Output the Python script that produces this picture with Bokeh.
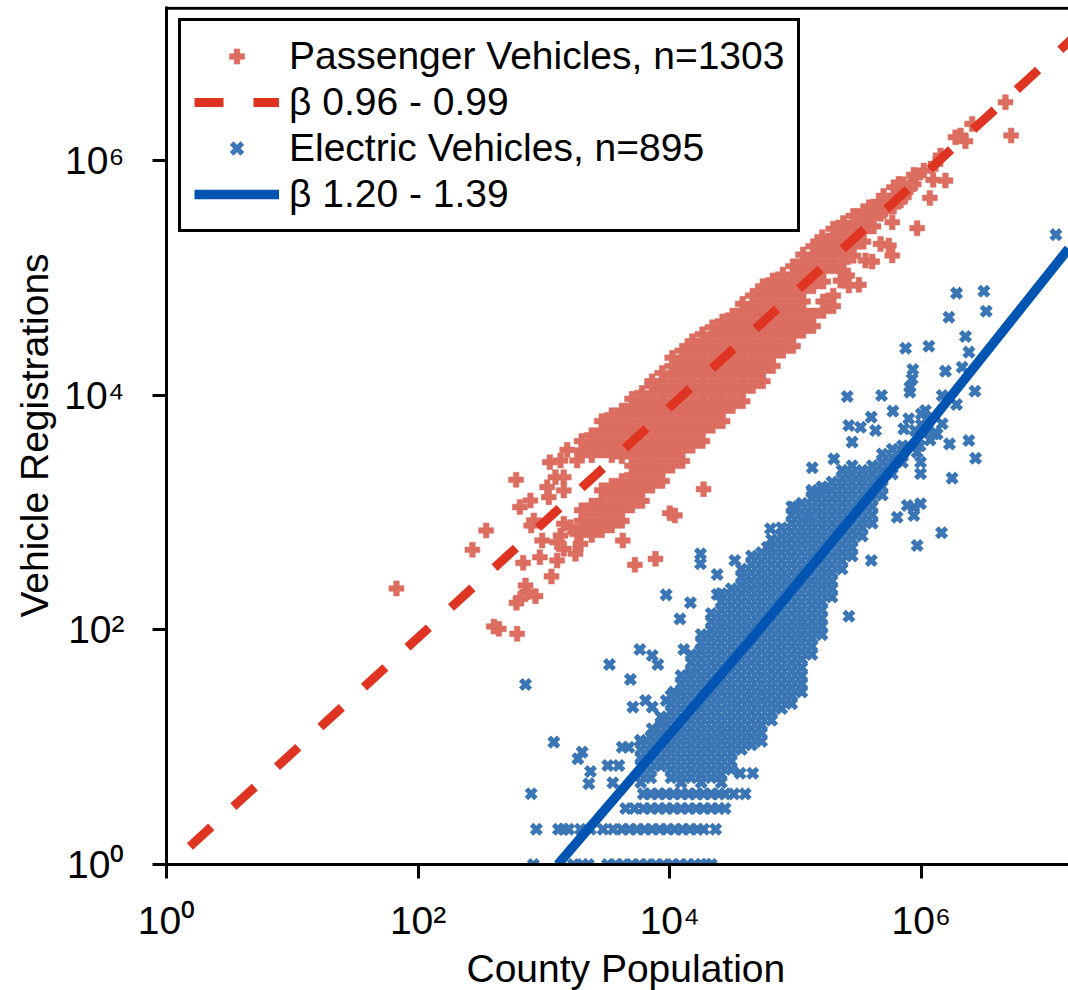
from bokeh.plotting import figure
from bokeh.models import Legend, LegendItem, FixedTicker, Span, Title
from bokeh.embed import file_html
from bokeh.resources import INLINE

X_LABEL = "County Population"
Y_LABEL = "Vehicle Registrations"
TICKS = [1, 100, 10000, 1000000]
TICK_TEXT = ["10⁰", "10²", "10⁴", "10⁶"]
NAMES = ["Passenger Vehicles, n=1303", "β 0.96 - 0.99", "Electric Vehicles, n=895", "β 1.20 - 1.39"]

# All values below are log10(population), log10(registrations).
PV_FIT_LX = [-0.16, 7.2]
PV_FIT_LY = [-0.186, 7.04]
EV_FIT_LX = [3.11, 4.64, 6.0, 7.17]
EV_FIT_LY = [0.0, 1.91, 3.674, 5.25]

PV_SPARSE = [(1.828,2.353),(2.432,2.683),(2.541,2.848),(2.779,3.28),(3.047,3.43),(3.185,3.535),(3.132,3.444),(3.264,3.444),
 (3.092,3.302),(3.158,3.302),(3.026,3.217),(3.158,3.189),(3.039,3.132),(2.893,3.103),(2.809,3.047),(2.92,2.933),(2.899,2.89),
 (2.986,2.762),(3.105,2.748),(2.968,2.62),(2.835,2.572),(3.105,2.592),(3.06,2.456),(2.854,2.379),(2.867,2.322),(2.933,2.288),
 (2.814,2.265),(2.782,2.231),(2.602,2.029),(2.642,2.009),(2.787,1.967),(3.158,2.905),(3.211,2.876),(3.132,2.805),(3.264,2.819),
 (3.158,2.691),(3.251,2.649),(3.291,2.734),(3.627,2.762),(3.887,2.606),(3.723,2.555),(4.269,3.2),(4.001,2.995),(4.041,2.976),
 (6.669,6.499),(6.714,6.215),(6.312,6.215),(6.272,6.2),(6.351,6.166),(6.404,6.314),(6.153,6.044),(6.113,5.973),(6.192,5.831),
 (6.094,5.837),(6.068,5.683),(6.02,5.916),(5.954,5.859),(5.914,5.774),(5.782,5.774),(5.821,5.803),(5.861,5.689),(5.782,5.646),
 (5.835,5.66),(5.967,5.425),(5.769,5.476),(5.676,5.547),(5.586,5.604),(5.596,5.518),(5.49,5.433),(5.676,5.291),(5.742,5.277),
 (5.769,5.192),(5.557,5.149),(5.61,5.14),(5.411,5.021),(5.358,4.978),(5.424,4.936),(5.504,4.942),(5.212,5.348),(5.358,5.376)]

PV_COLUMNS = [
 (3.30,[2.85,2.93,3.02,3.53,3.61]),
 (3.38,[2.81,2.89,2.98,3.06,3.49,3.57,3.66]),
 (3.46,[2.85,2.93,3.02,3.10,3.19,3.53,3.61,3.70,3.78]),
 (3.54,[2.89,2.98,3.06,3.15,3.23,3.49,3.57,3.66,3.74,3.83]),
 (3.62,[2.93,3.02,3.10,3.19,3.27,3.48,3.53,3.61,3.70,3.78,3.87]),
 (3.70,[3.06,3.15,3.23,3.32,3.40,3.49,3.57,3.66,3.74,3.83,3.91,3.97]),
 (3.78,[3.10,3.19,3.27,3.36,3.44,3.53,3.61,3.70,3.78,3.87,3.95,4.02]),
 (3.86,[3.23,3.32,3.40,3.49,3.57,3.66,3.74,3.83,3.91,4.00,4.08,4.12]),
 (3.94,[3.27,3.36,3.44,3.53,3.61,3.70,3.78,3.87,3.95,4.04,4.12,4.19]),
 (4.02,[3.40,3.49,3.57,3.66,3.74,3.83,3.91,4.00,4.08,4.17,4.25,4.32]),
 (4.10,[3.44,3.53,3.61,3.70,3.78,3.87,3.95,4.04,4.12,4.21,4.29,4.38]),
 (4.18,[3.57,3.66,3.74,3.83,3.91,4.00,4.08,4.17,4.25,4.34,4.42,4.46]),
 (4.26,[3.61,3.70,3.78,3.87,3.95,4.04,4.12,4.21,4.29,4.38,4.46,4.52]),
 (4.34,[3.74,3.83,3.91,4.00,4.08,4.17,4.25,4.34,4.42,4.51,4.58]),
 (4.42,[3.78,3.87,3.95,4.04,4.12,4.21,4.29,4.38,4.46,4.55,4.63]),
 (4.50,[3.91,4.00,4.08,4.17,4.25,4.34,4.42,4.51,4.59,4.68]),
 (4.58,[3.95,4.04,4.12,4.21,4.29,4.38,4.46,4.55,4.63,4.72,4.78]),
 (4.66,[4.08,4.17,4.25,4.34,4.42,4.51,4.59,4.68,4.76,4.85]),
 (4.74,[4.12,4.21,4.29,4.38,4.46,4.55,4.63,4.72,4.80,4.89,4.93]),
 (4.82,[4.25,4.34,4.42,4.51,4.59,4.68,4.76,4.85,4.93,4.98]),
 (4.90,[4.38,4.46,4.55,4.63,4.72,4.80,4.89,4.97,5.03]),
 (4.98,[4.42,4.51,4.59,4.68,4.76,4.85,4.93,5.02,5.10]),
 (5.06,[4.55,4.63,4.72,4.80,4.89,4.97,5.06,5.14,5.20]),
 (5.14,[4.59,4.68,4.93,5.02,5.10,5.19,5.27]),
 (5.22,[4.72,4.80,4.97,5.06,5.14,5.23,5.31]),
 (5.30,[4.76,4.85,5.10,5.19,5.27,5.36,5.42]),
 (5.38,[5.06,5.14,5.23,5.31,5.40,5.47]),
 (5.46,[5.19,5.27,5.36,5.44,5.53]),
 (5.54,[5.31,5.40,5.48,5.57]),
 (5.62,[5.44,5.53,5.61]),
 (5.70,[5.57,5.65,5.70]),
 (5.78,[5.61,5.70]),
 (5.86,[5.72,5.80]),
 (5.94,[5.80,5.88]),
]

EV_SPARSE = [(2.854,1.535),(3.521,1.705),(3.763,1.833),(3.861,1.782),(3.906,1.705),(3.688,1.578),(4.112,1.833),(4.245,1.825),
 (4.166,1.626),(3.707,1.342),(3.808,1.398),(3.861,1.342),(3.972,1.398),(4.033,1.47),(3.079,1.043),(3.304,0.958),(3.27,0.901),
 (3.37,0.793),(3.357,0.688),(3.508,0.844),(3.596,0.844),(3.548,0.697),(2.899,0.603),(3.622,1.0),(3.675,1.0),(3.768,1.06),
 (3.861,1.157),(3.94,1.214),(6.497,4.888),(6.28,4.871),(6.516,4.717),(6.219,4.666),(6.351,4.501),(6.378,4.368),(6.06,4.419),
 (5.875,4.402),(6.192,4.206),(6.325,4.24),(5.933,4.22),(5.927,4.14),(5.909,4.069),(5.909,4.027),(6.426,4.035),(5.411,3.99),
 (5.684,3.998),(6.166,3.998),(6.28,3.922),(5.774,3.865),(5.602,3.814),(6.033,3.87),(6.378,3.615),(6.224,3.586),(6.431,3.464),
 (6.245,3.294),(6.161,2.828),(5.967,2.72),(5.602,2.592),(5.424,2.117),(5.133,3.382),(5.133,3.174),(5.22,3.211),(5.305,3.458),
 (5.424,3.743),(5.517,3.728),(5.45,3.601),(5.636,3.7),(5.861,3.714),(5.941,3.046),(5.888,3.061),(5.994,3.075),(5.941,2.975),
 (5.808,2.961),(5.994,3.331),(5.994,3.43),(5.967,3.515),(6.126,3.671),(6.1,3.671),(6.166,3.757),(6.047,3.8),(4.801,2.862),
 (4.987,3.046),(5.106,2.947),(4.775,2.705),(4.245,2.648),(4.245,2.564),(4.518,2.592),(4.377,2.472),(4.377,2.302),(3.972,2.299),
 (4.165,2.231),(4.081,2.094),(5.95,3.70),(6.0,3.75),(6.05,3.70),(5.9,3.80),(6.0,3.84),(5.99,3.57),(6.07,3.62),(7.07,5.37),
 (4.56,0.778),(4.66,0.778),(4.51,0.602),(4.60,0.602)]

EV_COUNT1_LX = [2.917,3.235,3.307,3.354,3.506,3.57,3.63,3.70,3.76,3.82,3.89,3.95,4.02,4.08,4.14,4.20,4.25,4.29,4.33]
EV_COUNT2_LX = [2.94,3.116,3.156,3.196,3.29,3.37,3.47,3.55,3.62,3.68,3.74,3.80,3.86,3.92,3.98,4.04,4.10,4.16,4.22,4.27,4.365]
EV_COUNT3_LX = [3.65,3.72,3.79,3.85,3.91,3.97,4.03,4.09,4.15,4.21,4.27,4.33,4.39,4.44]
EV_COUNT4_LX = [3.79,3.85,3.91,3.97,4.03,4.09,4.15,4.21,4.27,4.33,4.39,4.44]

EV_COLUMNS = [
 (3.77,[0.70,0.77,0.84,0.91,0.98,1.05]),
 (3.85,[0.74,0.81,0.88,0.95,1.02,1.09]),
 (3.93,[0.84,0.91,0.98,1.05,1.12,1.19,1.26]),
 (4.01,[0.74,0.81,0.88,0.95,1.02,1.09,1.16,1.23,1.30,1.37,1.44]),
 (4.09,[0.70,0.77,0.84,0.91,0.98,1.05,1.12,1.19,1.26,1.33,1.40,1.47,1.54,1.61]),
 (4.17,[0.74,0.81,0.88,0.95,1.02,1.09,1.16,1.23,1.30,1.37,1.44,1.51,1.58,1.65,1.72,1.79]),
 (4.25,[0.70,0.77,0.84,0.91,0.98,1.05,1.12,1.19,1.26,1.33,1.40,1.47,1.54,1.61,1.68,1.75,1.82,1.89,1.96]),
 (4.33,[0.74,0.81,0.88,0.95,1.02,1.09,1.16,1.23,1.30,1.37,1.44,1.51,1.58,1.65,1.72,1.79,1.86,1.93,2.00,2.07,2.14]),
 (4.41,[0.70,0.77,0.84,0.91,0.98,1.05,1.12,1.19,1.26,1.33,1.40,1.47,1.54,1.61,1.68,1.75,1.82,1.89,1.96,2.03,2.10,2.17,2.24,2.31]),
 (4.49,[0.81,0.88,0.95,1.02,1.09,1.16,1.23,1.30,1.37,1.44,1.51,1.58,1.65,1.72,1.79,1.86,1.93,2.00,2.07,2.14,2.21,2.28,2.35]),
 (4.57,[0.98,1.05,1.12,1.19,1.26,1.33,1.40,1.47,1.54,1.61,1.68,1.75,1.82,1.89,1.96,2.03,2.10,2.17,2.24,2.31,2.38,2.45,2.52]),
 (4.65,[1.02,1.09,1.16,1.23,1.30,1.37,1.44,1.51,1.58,1.65,1.72,1.79,1.86,1.93,2.00,2.07,2.14,2.21,2.28,2.35,2.42,2.49,2.56,2.63]),
 (4.73,[1.05,1.12,1.19,1.26,1.33,1.40,1.47,1.54,1.61,1.68,1.75,1.82,1.89,1.96,2.03,2.10,2.17,2.24,2.31,2.38,2.45,2.52,2.59,2.66]),
 (4.81,[1.23,1.30,1.37,1.44,1.51,1.58,1.65,1.72,1.79,1.86,1.93,2.00,2.07,2.14,2.21,2.28,2.35,2.42,2.49,2.56,2.63,2.70,2.77]),
 (4.89,[1.33,1.40,1.47,1.54,1.61,1.68,1.75,1.82,1.89,1.96,2.03,2.10,2.17,2.24,2.31,2.38,2.45,2.52,2.59,2.66,2.73,2.80,2.87]),
 (4.97,[1.37,1.44,1.51,1.58,1.65,1.72,1.79,1.86,1.93,2.00,2.07,2.14,2.21,2.28,2.35,2.42,2.49,2.56,2.63,2.70,2.77,2.84,2.91,2.98,3.05]),
 (5.05,[1.47,1.54,1.61,1.68,1.75,1.82,1.89,1.96,2.03,2.10,2.17,2.24,2.31,2.38,2.45,2.52,2.59,2.66,2.73,2.80,2.87,2.94,3.01,3.08]),
 (5.13,[1.79,1.86,1.93,2.00,2.07,2.14,2.21,2.28,2.35,2.42,2.49,2.56,2.63,2.70,2.77,2.84,2.91,2.98,3.05,3.12,3.19]),
 (5.21,[1.96,2.03,2.10,2.17,2.24,2.31,2.38,2.45,2.52,2.59,2.66,2.73,2.80,2.87,2.94,3.01,3.08,3.15,3.22]),
 (5.29,[2.28,2.35,2.42,2.49,2.56,2.63,2.70,2.77,2.84,2.91,2.98,3.05,3.12,3.19,3.26]),
 (5.37,[2.52,2.59,2.66,2.73,2.80,2.87,2.94,3.01,3.08,3.15,3.22,3.29,3.36]),
 (5.45,[2.63,2.70,2.77,2.84,2.91,2.98,3.05,3.12,3.19,3.26,3.33,3.40]),
 (5.53,[2.80,2.87,2.94,3.01,3.08,3.15,3.22,3.29,3.36]),
 (5.61,[2.91,2.98,3.05,3.12,3.19,3.26,3.33,3.40]),
 (5.69,[3.15,3.22,3.29,3.36,3.43,3.50]),
 (5.77,[3.33,3.40,3.47,3.54]),
 (5.85,[3.43,3.50,3.57]),
]

RED_DOT = "#DC6E61"
RED_LINE = "#DE3421"
BLUE_DOT = "#3A75B5"
BLUE_LINE = "#0055B3"
FONT = "Liberation Sans"
FS = "39px"


def pow10(vals):
    return [10 ** v for v in vals]


pv_lx = [a for a, _ in PV_SPARSE] + [c for c, ys in PV_COLUMNS for _ in ys]
pv_ly = [b for _, b in PV_SPARSE] + [y for _, ys in PV_COLUMNS for y in ys]

ev_lx = [a for a, _ in EV_SPARSE] + [c for c, ys in EV_COLUMNS for _ in ys]
ev_ly = [b for _, b in EV_SPARSE] + [y for _, ys in EV_COLUMNS for y in ys]
ev_x = pow10(ev_lx) + pow10(EV_COUNT1_LX) + pow10(EV_COUNT2_LX) + pow10(EV_COUNT3_LX) + pow10(EV_COUNT4_LX)
ev_y = (pow10(ev_ly) + [1] * len(EV_COUNT1_LX) + [2] * len(EV_COUNT2_LX)
        + [3] * len(EV_COUNT3_LX) + [4] * len(EV_COUNT4_LX))

p = figure(width=1068, height=990, output_backend="svg", toolbar_location=None,
           x_axis_type="log", y_axis_type="log",
           x_range=(1, 10 ** 7.17), y_range=(1, 10 ** 7.315),
           min_border_left=166, min_border_right=0, min_border_top=6, min_border_bottom=126,
           outline_line_color=None)
p.xgrid.visible = False
p.ygrid.visible = False

for ax in (p.xaxis[0], p.yaxis[0]):
    ax.ticker = FixedTicker(ticks=TICKS)
    ax.major_label_overrides = dict(zip(TICKS, TICK_TEXT))
    ax.minor_tick_line_color = None
    ax.major_tick_in = 0
    ax.major_tick_out = 14
    ax.major_tick_line_width = 3
    ax.major_tick_line_color = "black"
    ax.axis_line_width = 3
    ax.axis_line_color = "black"
    ax.major_label_text_font = FONT
    ax.major_label_text_font_size = FS
    ax.major_label_text_color = "black"
p.xaxis[0].major_label_standoff = 20
p.yaxis[0].major_label_standoff = 28
p.yaxis[0].major_label_orientation = "horizontal"
p.yaxis[0].axis_label = Y_LABEL
p.yaxis[0].axis_label_text_font = FONT
p.yaxis[0].axis_label_text_font_size = FS
p.yaxis[0].axis_label_text_font_style = "normal"
p.yaxis[0].axis_label_text_color = "black"
p.yaxis[0].axis_label_standoff = 5

p.add_layout(Span(location=10 ** 7.30, dimension="width", line_color="black", line_width=3))
p.add_layout(Title(text=X_LABEL, align="left", offset=300, standoff=0, text_font=FONT, text_font_size=FS,
                   text_font_style="normal", text_color="black"), "below")

r1 = p.scatter(pow10(pv_lx), pow10(pv_ly), marker="plus", size=15, fill_color=RED_DOT, line_color=RED_DOT, line_width=0.5)
r3 = p.scatter(ev_x, ev_y, marker="x", size=13.5, line_color=BLUE_DOT, line_width=5, fill_color=None)
r2 = p.line(pow10(PV_FIT_LX), pow10(PV_FIT_LY), line_color=RED_LINE, line_width=9, line_dash="29 30")
r4 = p.line(pow10(EV_FIT_LX), pow10(EV_FIT_LY), line_color=BLUE_LINE, line_width=9.5)

legend = Legend(items=[LegendItem(label=NAMES[0], renderers=[r1]), LegendItem(label=NAMES[1], renderers=[r2]),
                       LegendItem(label=NAMES[2], renderers=[r3]), LegendItem(label=NAMES[3], renderers=[r4])],
                location="top_left", margin=12, padding=13, spacing=2, label_standoff=10,
                glyph_width=85, glyph_height=38, label_height=40,
                label_text_font=FONT, label_text_font_size=FS, label_text_color="black",
                border_line_color="black", border_line_alpha=1.0, border_line_width=3, background_fill_color="white",
                background_fill_alpha=1.0)
p.add_layout(legend)

open("out.html", "w").write(file_html(p, INLINE))
